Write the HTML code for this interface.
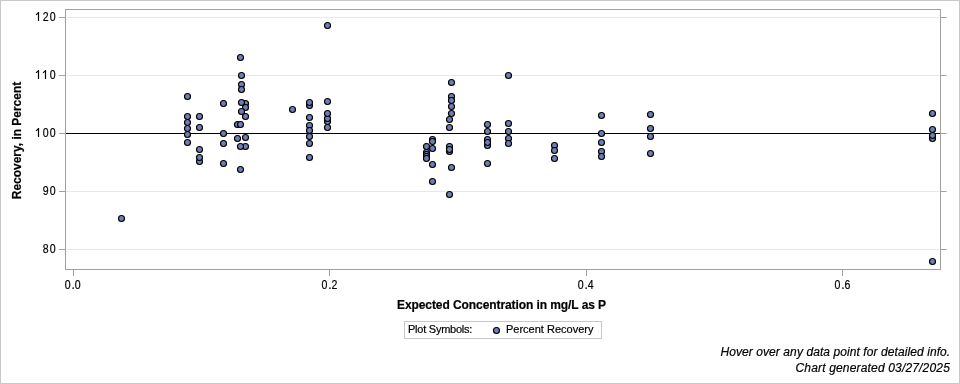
<!DOCTYPE html>
<html><head><meta charset="utf-8"><style>
html,body{margin:0;padding:0;background:#fff;}
#c{position:relative;width:960px;height:384px;overflow:hidden;background:#fff;}
#b{position:absolute;left:0;top:0;width:958px;height:382px;border:1px solid #c8c8c8;}
svg{position:absolute;left:0;top:0;will-change:transform;}
text{font-family:"Liberation Sans",sans-serif;fill:#000;stroke:#000;stroke-width:0.2px;}
.tk{font-size:12px;letter-spacing:0.4px;}
.lb{font-size:12px;font-weight:bold;letter-spacing:-0.08px;}
.tk0{font-size:12px;}
.lg{font-size:11px;}
.lg1{letter-spacing:-0.24px;}
.fn{font-size:12px;font-style:italic;}
</style></head><body><div id="c"><div id="b"></div>
<svg width="960" height="384" viewBox="0 0 960 384">
<line x1="66" y1="17.5" x2="939.5" y2="17.5" stroke="#e8e8e8" stroke-width="1"/>
<line x1="66" y1="75.5" x2="939.5" y2="75.5" stroke="#e8e8e8" stroke-width="1"/>
<line x1="66" y1="133.5" x2="939.5" y2="133.5" stroke="#e8e8e8" stroke-width="1"/>
<line x1="66" y1="191.5" x2="939.5" y2="191.5" stroke="#e8e8e8" stroke-width="1"/>
<line x1="66" y1="249.5" x2="939.5" y2="249.5" stroke="#e8e8e8" stroke-width="1"/>
<rect x="65.5" y="9.5" width="875" height="260" fill="none" stroke="#a0a0a0" stroke-width="1"/>
<line x1="59" y1="17.5" x2="65" y2="17.5" stroke="#a0a0a0" stroke-width="1"/>
<line x1="941" y1="17.5" x2="946.5" y2="17.5" stroke="#a0a0a0" stroke-width="1"/>
<path d="M37.9 12.0h1.2v9h-1.2z" fill="#000"/>
<path d="M36.00 14.90L38.30 12.90" stroke="#000" stroke-width="1.15" fill="none"/>
<text transform="translate(45.60,21.0) scale(0.88,1)" text-anchor="middle" class="tk0">2</text>
<text transform="translate(52.60,21.0) scale(0.88,1)" text-anchor="middle" class="tk0">0</text>
<line x1="59" y1="75.5" x2="65" y2="75.5" stroke="#a0a0a0" stroke-width="1"/>
<line x1="941" y1="75.5" x2="946.5" y2="75.5" stroke="#a0a0a0" stroke-width="1"/>
<path d="M37.9 70.0h1.2v9h-1.2z" fill="#000"/>
<path d="M36.00 72.90L38.30 70.90" stroke="#000" stroke-width="1.15" fill="none"/>
<path d="M44.9 70.0h1.2v9h-1.2z" fill="#000"/>
<path d="M43.00 72.90L45.30 70.90" stroke="#000" stroke-width="1.15" fill="none"/>
<text transform="translate(52.60,79.0) scale(0.88,1)" text-anchor="middle" class="tk0">0</text>
<line x1="59" y1="133.5" x2="65" y2="133.5" stroke="#a0a0a0" stroke-width="1"/>
<line x1="941" y1="133.5" x2="946.5" y2="133.5" stroke="#a0a0a0" stroke-width="1"/>
<path d="M37.9 128.0h1.2v9h-1.2z" fill="#000"/>
<path d="M36.00 130.90L38.30 128.90" stroke="#000" stroke-width="1.15" fill="none"/>
<text transform="translate(45.60,137.0) scale(0.88,1)" text-anchor="middle" class="tk0">0</text>
<text transform="translate(52.60,137.0) scale(0.88,1)" text-anchor="middle" class="tk0">0</text>
<line x1="59" y1="191.5" x2="65" y2="191.5" stroke="#a0a0a0" stroke-width="1"/>
<line x1="941" y1="191.5" x2="946.5" y2="191.5" stroke="#a0a0a0" stroke-width="1"/>
<text transform="translate(45.60,195.0) scale(0.88,1)" text-anchor="middle" class="tk0">9</text>
<text transform="translate(52.60,195.0) scale(0.88,1)" text-anchor="middle" class="tk0">0</text>
<line x1="59" y1="249.5" x2="65" y2="249.5" stroke="#a0a0a0" stroke-width="1"/>
<line x1="941" y1="249.5" x2="946.5" y2="249.5" stroke="#a0a0a0" stroke-width="1"/>
<text transform="translate(45.60,253.0) scale(0.88,1)" text-anchor="middle" class="tk0">8</text>
<text transform="translate(52.60,253.0) scale(0.88,1)" text-anchor="middle" class="tk0">0</text>
<line x1="73.5" y1="270" x2="73.5" y2="276" stroke="#a0a0a0" stroke-width="1"/>
<text transform="translate(67.75,289) scale(0.88,1)" text-anchor="middle" class="tk0">0</text>
<text x="73.05" y="289" text-anchor="middle" class="tk0">.</text>
<text transform="translate(77.75,289) scale(0.88,1)" text-anchor="middle" class="tk0">0</text>
<line x1="329.5" y1="270" x2="329.5" y2="276" stroke="#a0a0a0" stroke-width="1"/>
<text transform="translate(324.50,289) scale(0.88,1)" text-anchor="middle" class="tk0">0</text>
<text x="329.80" y="289" text-anchor="middle" class="tk0">.</text>
<text transform="translate(334.50,289) scale(0.88,1)" text-anchor="middle" class="tk0">2</text>
<line x1="586.5" y1="270" x2="586.5" y2="276" stroke="#a0a0a0" stroke-width="1"/>
<text transform="translate(580.75,289) scale(0.88,1)" text-anchor="middle" class="tk0">0</text>
<text x="586.05" y="289" text-anchor="middle" class="tk0">.</text>
<text transform="translate(590.75,289) scale(0.88,1)" text-anchor="middle" class="tk0">4</text>
<line x1="842.5" y1="270" x2="842.5" y2="276" stroke="#a0a0a0" stroke-width="1"/>
<text transform="translate(837.50,289) scale(0.88,1)" text-anchor="middle" class="tk0">0</text>
<text x="842.80" y="289" text-anchor="middle" class="tk0">.</text>
<text transform="translate(847.50,289) scale(0.88,1)" text-anchor="middle" class="tk0">6</text>
<line x1="66" y1="133.5" x2="940" y2="133.5" stroke="#000" stroke-width="1"/>
<g fill="#6F7EB3" stroke="#000" stroke-width="1.15"><circle cx="121.5" cy="218.50" r="3"/><circle cx="187.5" cy="96.50" r="3"/><circle cx="187.5" cy="116.50" r="3"/><circle cx="187.5" cy="122.50" r="3"/><circle cx="187.5" cy="128.50" r="3"/><circle cx="187.5" cy="134.50" r="3"/><circle cx="187.5" cy="142.50" r="3"/><circle cx="199.5" cy="116.50" r="3"/><circle cx="199.5" cy="127.50" r="3"/><circle cx="199.5" cy="149.50" r="3"/><circle cx="199.5" cy="161.50" r="3"/><circle cx="199.5" cy="157.50" r="3"/><circle cx="223.5" cy="103.50" r="3"/><circle cx="223.5" cy="133.50" r="3"/><circle cx="223.5" cy="143.50" r="3"/><circle cx="223.5" cy="163.50" r="3"/><circle cx="240.5" cy="57.50" r="3"/><circle cx="241.5" cy="75.50" r="3"/><circle cx="241.5" cy="84.50" r="3"/><circle cx="241.5" cy="89.50" r="3"/><circle cx="245.5" cy="103.50" r="3"/><circle cx="245.5" cy="107.50" r="3"/><circle cx="241.5" cy="102.50" r="3"/><circle cx="245.5" cy="116.50" r="3"/><circle cx="241.5" cy="111.50" r="3"/><circle cx="237.5" cy="124.50" r="3"/><circle cx="240.5" cy="124.50" r="3"/><circle cx="237.5" cy="138.50" r="3"/><circle cx="245.5" cy="137.50" r="3"/><circle cx="245.5" cy="146.50" r="3"/><circle cx="240.5" cy="146.50" r="3"/><circle cx="240.5" cy="169.50" r="3"/><circle cx="292.5" cy="109.50" r="3"/><circle cx="309.5" cy="105.50" r="3"/><circle cx="309.5" cy="102.50" r="3"/><circle cx="309.5" cy="117.50" r="3"/><circle cx="309.5" cy="125.50" r="3"/><circle cx="309.5" cy="130.50" r="3"/><circle cx="309.5" cy="136.50" r="3"/><circle cx="309.5" cy="143.50" r="3"/><circle cx="309.5" cy="157.50" r="3"/><circle cx="327.5" cy="25.50" r="3"/><circle cx="327.5" cy="101.50" r="3"/><circle cx="327.5" cy="121.50" r="3"/><circle cx="327.5" cy="118.50" r="3"/><circle cx="327.5" cy="113.50" r="3"/><circle cx="327.5" cy="127.50" r="3"/><circle cx="426.5" cy="146.50" r="3"/><circle cx="426.5" cy="152.50" r="3"/><circle cx="426.5" cy="154.50" r="3"/><circle cx="426.5" cy="156.50" r="3"/><circle cx="426.5" cy="158.50" r="3"/><circle cx="432.5" cy="139.50" r="3"/><circle cx="432.5" cy="141.50" r="3"/><circle cx="432.5" cy="148.50" r="3"/><circle cx="432.5" cy="164.50" r="3"/><circle cx="432.5" cy="181.50" r="3"/><circle cx="449.5" cy="119.50" r="3"/><circle cx="449.5" cy="127.50" r="3"/><circle cx="449.5" cy="146.50" r="3"/><circle cx="449.5" cy="151.50" r="3"/><circle cx="449.5" cy="149.50" r="3"/><circle cx="449.5" cy="194.50" r="3"/><circle cx="451.5" cy="82.50" r="3"/><circle cx="451.5" cy="96.50" r="3"/><circle cx="451.5" cy="100.50" r="3"/><circle cx="451.5" cy="106.50" r="3"/><circle cx="451.5" cy="113.50" r="3"/><circle cx="451.5" cy="167.50" r="3"/><circle cx="487.5" cy="124.50" r="3"/><circle cx="487.5" cy="131.50" r="3"/><circle cx="487.5" cy="139.50" r="3"/><circle cx="487.5" cy="145.50" r="3"/><circle cx="487.5" cy="142.50" r="3"/><circle cx="487.5" cy="163.50" r="3"/><circle cx="508.5" cy="75.50" r="3"/><circle cx="508.5" cy="123.50" r="3"/><circle cx="508.5" cy="131.50" r="3"/><circle cx="508.5" cy="138.50" r="3"/><circle cx="508.5" cy="143.50" r="3"/><circle cx="554.5" cy="145.50" r="3"/><circle cx="554.5" cy="150.50" r="3"/><circle cx="554.5" cy="158.50" r="3"/><circle cx="601.5" cy="115.50" r="3"/><circle cx="601.5" cy="133.50" r="3"/><circle cx="601.5" cy="142.50" r="3"/><circle cx="601.5" cy="151.50" r="3"/><circle cx="601.5" cy="156.50" r="3"/><circle cx="650.5" cy="114.50" r="3"/><circle cx="650.5" cy="128.50" r="3"/><circle cx="650.5" cy="136.50" r="3"/><circle cx="650.5" cy="153.50" r="3"/><circle cx="932.5" cy="113.50" r="3"/><circle cx="932.5" cy="129.50" r="3"/><circle cx="932.5" cy="138.50" r="3"/><circle cx="932.5" cy="135.50" r="3"/><circle cx="932.5" cy="261.50" r="3"/></g>
<text x="501.5" y="309" text-anchor="middle" class="lb">Expected Concentration in mg/L as P</text>
<text transform="translate(21,140.5) rotate(-90)" x="0" y="0" text-anchor="middle" class="lb" style="letter-spacing:-0.02px">Recovery, in Percent</text>
<rect x="404.5" y="321.5" width="197" height="17" fill="none" stroke="#c8c8c8" stroke-width="1"/>
<text x="408" y="333" class="lg lg1">Plot Symbols:</text>
<circle cx="496.5" cy="330.5" r="3" fill="#6F7EB3" stroke="#000" stroke-width="1.15"/>
<text x="506" y="333" class="lg">Percent Recovery</text>
<text x="950.3" y="356" text-anchor="end" class="fn" style="letter-spacing:0.085px">Hover over any data point for detailed info.</text>
<text x="950" y="372" text-anchor="end" class="fn" style="letter-spacing:0.17px">Chart generated 03/27/2025</text>
</svg></div></body></html>
